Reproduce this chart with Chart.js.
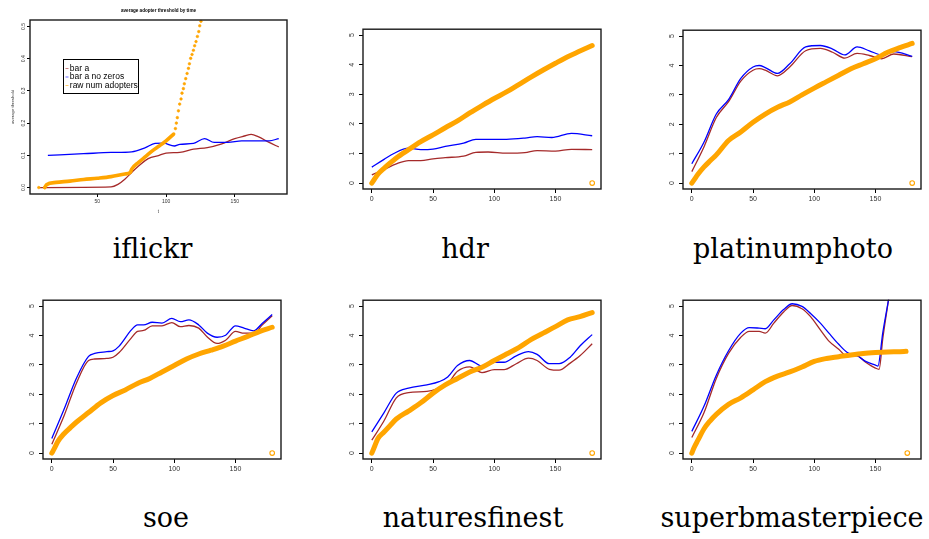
<!DOCTYPE html>
<html>
<head>
<meta charset="UTF-8">
<title>average adopter threshold by time</title>
<script src="https://cdn.jsdelivr.net/npm/chart.js"></script>
<style>
  body { margin: 0; background: #fff; width: 929px; height: 539px; position: relative; overflow: hidden; }
  .panel { position: absolute; }
  .cap { position: absolute; font-family: "DejaVu Serif", serif; font-size: 27px; line-height: 1; color: #000; white-space: nowrap; transform: translateX(-50%); }
</style>
</head>
<body>
<div class="panel" id="p1"><canvas id="c1"></canvas></div>
<div class="panel" id="p2"><canvas id="c2"></canvas></div>
<div class="panel" id="p3"><canvas id="c3"></canvas></div>
<div class="panel" id="p4"><canvas id="c4"></canvas></div>
<div class="panel" id="p5"><canvas id="c5"></canvas></div>
<div class="panel" id="p6"><canvas id="c6"></canvas></div>

<div class="cap" style="left:152.5px;top:235.2px">iflickr</div>
<div class="cap" style="left:465px;top:235.2px">hdr</div>
<div class="cap" style="left:793px;top:235.2px">platinumphoto</div>
<div class="cap" style="left:166px;top:504.2px">soe</div>
<div class="cap" style="left:473px;top:504.2px">naturesfinest</div>
<div class="cap" style="left:792px;top:504.2px">superbmasterpiece</div>

<script>
// ---- values ----
const seriesNames = ["bar a", "bar a no zeros", "raw num adopters"];

// iflickr
const iflickrBarAT = [8, 60, 65, 70, 75, 80, 87, 95, 100, 110, 120, 130, 140, 150, 157, 162, 167, 175, 182];
const iflickrBarA = [0, 0.002, 0.01, 0.026, 0.047, 0.067, 0.09, 0.10, 0.107, 0.109, 0.119, 0.124, 0.135, 0.152, 0.160, 0.165, 0.158, 0.140, 0.126];
const iflickrNoZerosT = [14, 40, 60, 75, 85, 92, 98, 106, 110, 120, 128, 135, 145, 155, 165, 175, 182];
const iflickrNoZeros = [0.100, 0.105, 0.109, 0.111, 0.124, 0.137, 0.138, 0.129, 0.134, 0.137, 0.152, 0.140, 0.140, 0.145, 0.145, 0.145, 0.152];
const iflickrRawT = [11.7, 13, 20, 30, 40, 50, 60, 70, 74, 75, 80, 85, 90, 95, 100, 105.5];
const iflickrRaw = [0, 0.009, 0.016, 0.02, 0.025, 0.029, 0.034, 0.042, 0.047, 0.057, 0.078, 0.096, 0.114, 0.129, 0.145, 0.166];
const iflickrRawDotsT = [7.4, 11.7, 106.8, 107.5, 108.2, 109.0, 109.9, 110.9, 111.6, 112.6, 113.3, 114.3, 115.3, 116.3, 117.0, 117.9, 118.9, 119.9, 120.8, 121.8, 122.8, 123.8, 124.5, 125.4, 126.3, 127.2];
const iflickrRawDots = [0, 0, 0.183, 0.200, 0.217, 0.238, 0.259, 0.275, 0.293, 0.307, 0.322, 0.338, 0.354, 0.370, 0.384, 0.401, 0.413, 0.426, 0.440, 0.453, 0.469, 0.484, 0.502, 0.516, 0.53, 0.545];

// shared t for the adopter counts of the other panels
const rawT = [0, 2, 5, 10, 15, 20, 30, 40, 50, 60, 70, 80, 90, 100, 110, 120, 130, 140, 150, 160, 170, 180];

// hdr
const hdrBarAT = [0, 10, 20, 30, 40, 50, 60, 75, 85, 95, 110, 125, 135, 150, 163, 180];
const hdrBarA = [0.28, 0.46, 0.65, 0.76, 0.76, 0.82, 0.86, 0.91, 1.04, 1.05, 1.01, 1.03, 1.10, 1.08, 1.14, 1.13];
const hdrNoZerosT = [0, 10, 18, 30, 40, 50, 60, 75, 85, 100, 110, 125, 135, 147, 163, 180];
const hdrNoZeros = [0.54, 0.80, 1.0, 1.18, 1.13, 1.15, 1.24, 1.35, 1.48, 1.48, 1.48, 1.52, 1.57, 1.54, 1.68, 1.60];
const hdrRaw = [0, 0.12, 0.3, 0.5, 0.68, 0.85, 1.13, 1.40, 1.63, 1.87, 2.1, 2.37, 2.62, 2.86, 3.08, 3.33, 3.58, 3.82, 4.05, 4.27, 4.46, 4.65];

// platinumphoto
const platT = [0, 10, 20, 30, 40, 50, 55, 60, 70, 80, 93, 105, 115, 125, 135, 145, 155, 165, 180];
const platBarA = [0.39, 1.24, 2.23, 2.77, 3.47, 3.84, 3.89, 3.84, 3.65, 3.95, 4.50, 4.58, 4.45, 4.25, 4.41, 4.34, 4.23, 4.39, 4.30];
const platNoZeros = [0.66, 1.40, 2.35, 2.84, 3.56, 3.95, 4.0, 3.93, 3.73, 4.06, 4.63, 4.68, 4.56, 4.36, 4.63, 4.50, 4.36, 4.47, 4.31];
const platRaw = [0, 0.12, 0.3, 0.55, 0.76, 0.96, 1.45, 1.74, 2.07, 2.35, 2.58, 2.76, 3.0, 3.23, 3.45, 3.67, 3.89, 4.06, 4.23, 4.45, 4.61, 4.75];

// soe
const soeT = [0, 10, 20, 30, 35, 45, 50, 55, 65, 70, 75, 82, 90, 98, 105, 112, 120, 127, 135, 142, 150, 157, 165, 172, 180];
const soeBarA = [0.30, 1.27, 2.37, 3.15, 3.20, 3.22, 3.26, 3.42, 3.92, 4.14, 4.17, 4.33, 4.33, 4.44, 4.30, 4.34, 4.25, 3.95, 3.73, 3.84, 4.14, 4.08, 4.08, 4.36, 4.67];
const soeNoZeros = [0.50, 1.49, 2.54, 3.29, 3.39, 3.45, 3.48, 3.64, 4.19, 4.36, 4.36, 4.45, 4.42, 4.58, 4.47, 4.53, 4.36, 4.08, 3.94, 4.01, 4.33, 4.25, 4.16, 4.42, 4.71];
const soeRaw = [0, 0.15, 0.4, 0.66, 0.86, 1.05, 1.38, 1.71, 1.96, 2.15, 2.37, 2.54, 2.76, 2.98, 3.20, 3.37, 3.50, 3.64, 3.81, 3.97, 4.14, 4.28];

// naturesfinest
const natT = [0, 10, 20, 30, 45, 55, 62, 70, 80, 90, 100, 108, 118, 128, 135, 145, 153, 162, 170, 180];
const natBarA = [0.44, 1.10, 1.88, 2.06, 2.10, 2.21, 2.37, 2.78, 2.93, 2.74, 2.84, 2.84, 3.04, 3.23, 3.15, 2.85, 2.82, 3.06, 3.31, 3.72];
const natNoZeros = [0.72, 1.38, 2.04, 2.21, 2.32, 2.43, 2.59, 2.98, 3.15, 2.96, 3.09, 3.09, 3.31, 3.45, 3.36, 3.04, 3.04, 3.26, 3.64, 4.03];
const natRaw = [0, 0.2, 0.5, 0.72, 0.94, 1.16, 1.43, 1.71, 2.04, 2.32, 2.54, 2.76, 2.92, 3.15, 3.37, 3.59, 3.86, 4.08, 4.30, 4.53, 4.64, 4.78];

// superbmasterpiece
const supBarAT = [0, 10, 20, 30, 40, 47, 55, 60, 67, 75, 82, 90, 97, 105, 112, 120, 127, 135, 142, 150, 153, 156, 161, 165];
const supBarA = [0.53, 1.38, 2.54, 3.39, 3.94, 4.14, 4.14, 4.08, 4.42, 4.80, 5.02, 4.91, 4.64, 4.19, 3.81, 3.53, 3.29, 3.31, 3.09, 2.89, 2.85, 3.9, 5.3, 6.4];
const supNoZerosT = [0, 10, 20, 30, 40, 47, 55, 60, 67, 75, 82, 90, 97, 105, 112, 120, 127, 135, 142, 150, 152, 156, 161, 165];
const supNoZeros = [0.74, 1.60, 2.65, 3.48, 4.08, 4.27, 4.25, 4.23, 4.53, 4.88, 5.08, 4.99, 4.75, 4.42, 4.08, 3.70, 3.42, 3.31, 3.12, 2.99, 2.96, 4.1, 5.3, 6.4];
const supRawT = [0, 2, 5, 10, 15, 20, 30, 40, 50, 60, 70, 80, 90, 100, 110, 120, 130, 140, 150, 160, 170, 175];
const supRaw = [0, 0.2, 0.44, 0.83, 1.10, 1.32, 1.66, 1.88, 2.15, 2.43, 2.62, 2.76, 2.93, 3.12, 3.22, 3.28, 3.34, 3.39, 3.42, 3.44, 3.45, 3.46];

// the single stray adopter point at the far right of each panel
const strayT = [180, 180, 180, 180, 176];

// ticks
const smallXTicks = [50, 100, 150];
const smallYTicks = [0, 0.1, 0.2, 0.3, 0.4, 0.5];
const xTicks = [0, 50, 100, 150];
const yTicks = [0, 1, 2, 3, 4, 5];

// ---- drawing ----
const RED = '#A52A2A', BLUE = '#0000FF', ORANGE = '#FFA500';
const sans = '"Liberation Sans", Arial, sans-serif';

function pts(xs, ys) { return xs.map((x, i) => ({ x: x, y: ys[i] })); }

function lineSet(label, xs, ys, color, order) {
  return { label: label, data: pts(xs, ys), borderColor: color, backgroundColor: color,
    borderWidth: 1.3, pointRadius: 0, cubicInterpolationMode: 'monotone', order: order, clip: 0.5 };
}
function rawSet(label, xs, ys, w) {
  return { label: label, data: pts(xs, ys), borderColor: ORANGE, backgroundColor: ORANGE,
    borderWidth: w, pointRadius: 0, cubicInterpolationMode: 'monotone',
    borderCapStyle: 'round', borderJoinStyle: 'round', order: 1, clip: 0.5 };
}
function straySet(x) {
  return { data: [{ x: x, y: 0 }], showLine: false, pointRadius: 2.3, pointBorderWidth: 1.1,
    pointBorderColor: ORANGE, pointBackgroundColor: 'rgba(0,0,0,0)', order: 0, clip: 0.5 };
}

const framePlugin = {
  id: 'frame',
  afterDatasetsDraw(chart) {
    const a = chart.chartArea, c = chart.ctx;
    c.save();
    c.strokeStyle = '#1a1a1a';
    c.lineWidth = 1.4;
    c.strokeRect(a.left, a.top, a.right - a.left, a.bottom - a.top);
    c.restore();
  }
};

const areaTitlePlugin = {
  id: 'areaTitle',
  afterDraw(chart, args, opts) {
    if (!opts || !opts.text) return;
    const a = chart.chartArea, c = chart.ctx;
    c.save();
    c.font = 'bold ' + opts.size + 'px ' + sans;
    c.fillStyle = '#000';
    c.textAlign = 'center';
    c.textBaseline = 'middle';
    c.fillText(opts.text, (a.left + a.right) / 2, opts.y);
    c.restore();
  }
};

const legendBoxPlugin = {
  id: 'legendBox',
  afterDraw(chart, args, opts) {
    if (!opts || opts.x === undefined) return;
    const c = chart.ctx, xs = chart.scales.x, ys = chart.scales.y;
    const items = chart.data.datasets.filter(d => d.label);
    c.save();
    c.font = opts.size + 'px ' + sans;
    const tw = Math.max(...items.map(d => c.measureText(d.label).width));
    const x0 = Math.round(xs.getPixelForValue(opts.x)) + 0.5;
    const y0 = Math.round(ys.getPixelForValue(opts.y)) + 0.5;
    const w = Math.round(opts.pad + tw + 1), h = Math.round(opts.first * 2 + opts.rowH * (items.length - 1) - 1);
    c.fillStyle = '#fff';
    c.fillRect(x0, y0, w, h);
    c.strokeStyle = '#000';
    c.lineWidth = 1;
    c.strokeRect(x0, y0, w, h);
    items.forEach((d, i) => {
      const yy = y0 + opts.first + i * opts.rowH;
      c.strokeStyle = d.borderColor;
      c.lineWidth = 1;
      c.globalAlpha = 0.6;
      c.beginPath();
      c.moveTo(x0 + 2, yy);
      c.lineTo(x0 + 5, yy);
      c.stroke();
      c.globalAlpha = 1;
      c.fillStyle = '#000';
      c.textBaseline = 'middle';
      c.fillText(d.label, x0 + opts.pad, yy);
    });
    c.restore();
  }
};

function makePanel(p) {
  const box = document.getElementById(p.id);
  box.style.left = p.left + 'px';
  box.style.top = p.top + 'px';
  const cv = box.querySelector('canvas');
  cv.width = p.yw + p.boxW + p.rp;
  cv.height = p.topPad + p.boxH + p.xh;
  cv.style.width = cv.width + 'px';
  cv.style.height = cv.height + 'px';

  new Chart(cv, {
    type: 'line',
    data: { datasets: p.datasets },
    plugins: [framePlugin, areaTitlePlugin, legendBoxPlugin],
    options: {
      responsive: false,
      animation: false,
      events: [],
      layout: { autoPadding: false, padding: { top: p.topPad, right: p.rp, left: 0, bottom: 0 } },
      plugins: {
        legend: { display: false },
        tooltip: { enabled: false },
        title: { display: false },
        areaTitle: p.title || {},
        legendBox: p.legend || {}
      },
      scales: {
        x: {
          type: 'linear', position: 'bottom', min: p.xMin, max: p.xMax,
          afterBuildTicks: s => { s.ticks = p.xTicks.map(v => ({ value: v })); },
          afterFit: s => { s.height = p.xh; },
          border: { display: false },
          grid: { display: true, drawOnChartArea: false, drawTicks: true, tickLength: p.tl, color: '#000', lineWidth: 1 },
          ticks: { font: { size: p.fs, family: sans }, color: '#333', padding: p.xPad, maxRotation: 0, minRotation: 0,
            callback: v => String(v) },
          title: p.xTitle ? { display: true, text: p.xTitle, font: { size: p.fs * 0.9, family: sans }, color: '#333', padding: { top: 0, bottom: p.xTitlePad } } : { display: false }
        },
        y: {
          type: 'linear', position: 'left', min: p.yMin, max: p.yMax,
          afterBuildTicks: s => { s.ticks = p.yTicks.map(v => ({ value: v })); },
          afterFit: s => { s.width = p.yw; },
          border: { display: false },
          grid: { display: true, drawOnChartArea: false, drawTicks: true, tickLength: p.tl, color: '#000', lineWidth: 1 },
          ticks: { font: { size: p.fs, family: sans }, color: '#333', padding: p.yPad, minRotation: 90, maxRotation: 90,
            crossAlign: 'center', callback: v => p.yFmt(v) },
          title: p.yTitle ? { display: true, text: p.yTitle, font: { size: p.fs * 0.85, family: sans }, color: '#333', padding: { top: p.yTitlePad, bottom: 0 } } : { display: false }
        }
      }
    }
  });
}

const intFmt = v => String(v);

// iflickr: full figure with title and legend
makePanel({
  id: 'p1', left: 0, top: 0, yw: 30, boxW: 257, rp: 3, topPad: 20, boxH: 174, xh: 26,
  xMin: 1, xMax: 188, yMin: -0.02, yMax: 0.52, xTicks: smallXTicks, yTicks: smallYTicks,
  fs: 5, tl: 3, xPad: 2, yPad: 0, yFmt: v => v.toFixed(1),
  xTitle: 't', xTitlePad: 6, yTitle: 'average threshold', yTitlePad: 10,
  title: { text: 'average adopter threshold by time', size: 4.6, y: 10.7 },
  legend: { x: 25, y: 0.4, size: 8.5, pad: 6.3, first: 9, rowH: 8.5 },
  datasets: [
    lineSet(seriesNames[0], iflickrBarAT, iflickrBarA, RED, 3),
    lineSet(seriesNames[1], iflickrNoZerosT, iflickrNoZeros, BLUE, 2),
    rawSet(seriesNames[2], iflickrRawT, iflickrRaw, 3.6),
    { data: pts(iflickrRawDotsT, iflickrRawDots), showLine: false, pointRadius: 1.3, pointBorderWidth: 0.6,
      pointBorderColor: ORANGE, pointBackgroundColor: ORANGE, order: 0, clip: 0.5 }
  ]
});

const small = [
  { id: 'p2', left: 338, top: 20, boxH: 164, barT: hdrBarAT, barA: hdrBarA, nzT: hdrNoZerosT, nz: hdrNoZeros, rT: rawT, raw: hdrRaw, stray: strayT[0] },
  { id: 'p3', left: 658, top: 21, boxH: 163, barT: platT, barA: platBarA, nzT: platT, nz: platNoZeros, rT: rawT, raw: platRaw, stray: strayT[1] },
  { id: 'p4', left: 18, top: 291, boxH: 163, barT: soeT, barA: soeBarA, nzT: soeT, nz: soeNoZeros, rT: rawT, raw: soeRaw, stray: strayT[2] },
  { id: 'p5', left: 338, top: 291, boxH: 163, barT: natT, barA: natBarA, nzT: natT, nz: natNoZeros, rT: rawT, raw: natRaw, stray: strayT[3] },
  { id: 'p6', left: 658, top: 291, boxH: 163, barT: supBarAT, barA: supBarA, nzT: supNoZerosT, nz: supNoZeros, rT: supRawT, raw: supRaw, stray: strayT[4] }
];

small.forEach(s => {
  makePanel({
    id: s.id, left: s.left, top: s.top, yw: 25, boxW: 238, rp: 3, topPad: 5, boxH: s.boxH, xh: 20,
    xMin: -7.2, xMax: 187.2, yMin: -0.2, yMax: 5.2, xTicks: xTicks, yTicks: yTicks,
    fs: 7, tl: 4, xPad: 2, yPad: 5, yFmt: intFmt,
    datasets: [
      lineSet(seriesNames[0], s.barT, s.barA, RED, 3),
      lineSet(seriesNames[1], s.nzT, s.nz, BLUE, 2),
      rawSet(seriesNames[2], s.rT, s.raw, 5),
      straySet(s.stray)
    ]
  });
});
</script>
</body>
</html>
